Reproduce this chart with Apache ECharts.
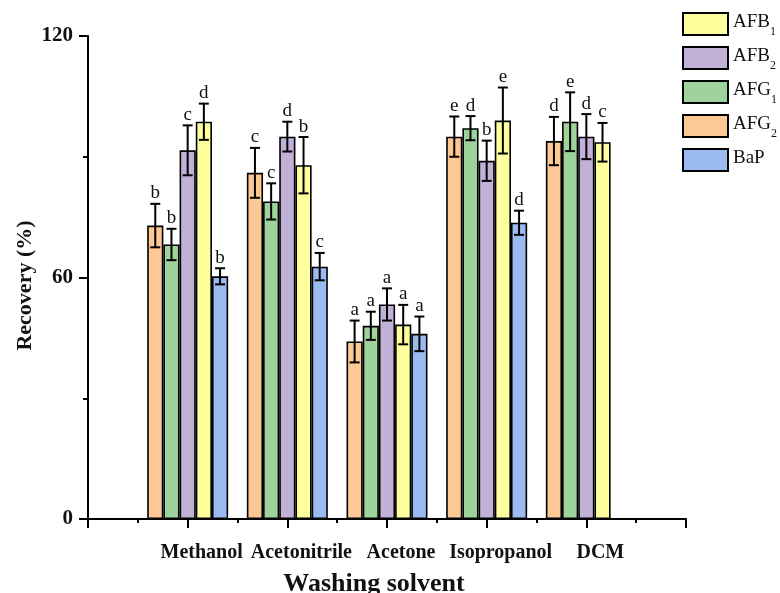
<!DOCTYPE html>
<html>
<head>
<meta charset="utf-8">
<script src="https://cdn.jsdelivr.net/npm/echarts@6/dist/echarts.min.js"></script>
<style>html,body{margin:0;padding:0;background:#fff;}#c{width:780px;height:593px;}</style>
</head>
<body>
<div id="c"></div>
<script>
const categories = ['Methanol', 'Acetonitrile', 'Acetone', 'Isopropanol', 'DCM'];
const seriesNames = ['AFG2', 'AFG1', 'AFB2', 'AFB1', 'BaP'];
const legendOrder = ['AFB1', 'AFB2', 'AFG1', 'AFG2', 'BaP'];
const afg2 = [72.9, 86.0, 44.1, 95.0, 93.9];
const afg2Err = [5.4, 6.2, 5.2, 5.0, 6.0];
const afg2Sig = ['b', 'c', 'a', 'e', 'd'];
const afg1 = [68.2, 78.9, 48.0, 97.1, 98.7];
const afg1Err = [3.9, 4.5, 3.5, 3.0, 7.3];
const afg1Sig = ['b', 'c', 'a', 'd', 'e'];
const afb2 = [91.6, 95.0, 53.3, 89.0, 95.0];
const afb2Err = [6.2, 3.7, 4.0, 5.0, 5.6];
const afb2Sig = ['c', 'd', 'a', 'b', 'd'];
const afb1 = [98.7, 87.9, 48.3, 99.0, 93.6];
const afb1Err = [4.5, 7.0, 4.9, 8.2, 4.8];
const afb1Sig = ['d', 'b', 'a', 'e', 'c'];
const bap = [60.3, 62.7, 46.0, 73.6, null];
const bapErr = [2.0, 3.4, 4.3, 3.0, null];
const bapSig = ['b', 'c', 'a', 'd', ''];
const yTicks = [0, 60, 120];

const colors = ['#FCC995', '#9ED49C', '#C1B1D7', '#FFFF9E', '#9ABBF0'];
const values = [afg2, afg1, afb2, afb1, bap];
const errs = [afg2Err, afg1Err, afb2Err, afb1Err, bapErr];
const sigs = [afg2Sig, afg1Sig, afb2Sig, afb1Sig, bapSig];

const FONT = '"Liberation Serif", "Times New Roman", serif';
const BARW = 0.1625;
const xCats = [''].concat(categories, ['']);
const minorCats = [];
for (let i = 0; i < xCats.length * 2 - 1; i++) minorCats.push(String(i));

const barSeries = seriesNames.map((n, s) => ({
  name: n,
  type: 'bar',
  barWidth: (BARW * 100) + '%',
  barGap: '0%',
  itemStyle: { color: colors[s], borderColor: '#000', borderWidth: 1.6 },
  data: [null].concat(values[s], [null]),
  z: 2
}));

const errItems = [];
const errLetters = [];
values.forEach((arr, s) => {
  arr.forEach((v, i) => {
    if (v == null) return;
    errItems.push([i + 1, s, v, errs[s][i]]);
    errLetters.push(sigs[s][i]);
  });
});

const errSeries = {
  type: 'custom',
  silent: true,
  z: 5,
  data: errItems,
  encode: { x: 0, y: 2 },
  renderItem: function (params, api) {
    const cat = api.value(0), s = api.value(1), v = api.value(2), e = api.value(3);
    const band = api.size([1, 0])[0];
    const bw = band * BARW;
    const cx = api.coord([cat, v])[0] + (s - 2) * bw;
    const top = api.coord([cat, v + e])[1];
    const bot = api.coord([cat, v - e])[1];
    const cap = 5;
    const st = { stroke: '#000', lineWidth: 2 };
    return {
      type: 'group',
      children: [
        { type: 'line', shape: { x1: cx, y1: top, x2: cx, y2: bot }, style: st },
        { type: 'line', shape: { x1: cx - cap, y1: top, x2: cx + cap, y2: top }, style: st },
        { type: 'line', shape: { x1: cx - cap, y1: bot, x2: cx + cap, y2: bot }, style: st },
        { type: 'text', x: cx, y: top - 1, style: { text: errLetters[params.dataIndex], align: 'center', verticalAlign: 'bottom', font: '19px ' + FONT, fill: '#111' } }
      ]
    };
  }
};

const chart = echarts.init(document.getElementById('c'), null, { renderer: 'canvas' });
chart.setOption({
  animation: false,
  backgroundColor: '#fff',
  grid: { left: 88, right: 94, top: 36, bottom: 74, containLabel: false, outerBoundsMode: 'none' },
  legend: {
    orient: 'vertical',
    left: 682,
    top: 12,
    padding: 0,
    icon: 'rect',
    itemWidth: 45,
    itemHeight: 22,
    itemGap: 8,
    data: legendOrder,
    formatter: function (n) {
      if (n === 'BaP') return '{n|BaP}';
      return '{n|' + n.slice(0, 3) + '}{s|' + n.slice(3) + '}';
    },
    textStyle: {
      fontFamily: FONT, fontSize: 19, color: '#111',
      rich: {
        n: { fontFamily: FONT, fontSize: 19, color: '#111', lineHeight: 22, verticalAlign: 'top' },
        s: { fontFamily: FONT, fontSize: 12, color: '#111', lineHeight: 12, verticalAlign: 'bottom', padding: [0, 0, -3, 0] }
      }
    }
  },
  xAxis: [{
    type: 'category',
    data: xCats,
    boundaryGap: false,
    position: 'bottom',
    axisLine: { lineStyle: { color: '#000', width: 2 } },
    axisTick: { show: true, length: 9, lineStyle: { color: '#000', width: 2 } },
    axisLabel: { interval: 0, margin: 24, fontFamily: FONT, fontWeight: 'bold', fontSize: 20, color: '#111', padding: [0, 0, 0, 28] },
    splitLine: { show: false },
    name: 'Washing solvent',
    nameLocation: 'middle',
    nameGap: 52,
    nameMoveOverlap: false,
    nameTextStyle: { fontFamily: FONT, fontWeight: 'bold', fontSize: 26, color: '#111', padding: [0, 26, 0, 0] }
  }, {
    type: 'category',
    data: minorCats,
    boundaryGap: false,
    position: 'bottom',
    axisLine: { show: false },
    axisTick: { show: true, interval: 0, length: 4, lineStyle: { color: '#000', width: 2 } },
    axisLabel: { show: false },
    splitLine: { show: false }
  }],
  yAxis: {
    type: 'value',
    min: yTicks[0],
    max: yTicks[yTicks.length - 1],
    interval: 60,
    axisLine: { show: true, lineStyle: { color: '#000', width: 2 } },
    axisTick: { show: true, length: 9, lineStyle: { color: '#000', width: 2 } },
    minorTick: { show: true, splitNumber: 2, length: 5, lineStyle: { color: '#000', width: 2 } },
    axisLabel: { margin: 15, fontFamily: FONT, fontWeight: 'bold', fontSize: 21, color: '#111' },
    splitLine: { show: false },
    name: 'Recovery (%)',
    nameLocation: 'middle',
    nameGap: 52,
    nameMoveOverlap: false,
    nameTextStyle: { fontFamily: FONT, fontWeight: 'bold', fontSize: 22, color: '#111', padding: [0, 16, 0, 0] }
  },
  series: barSeries.concat([errSeries])
});
</script>
</body>
</html>
